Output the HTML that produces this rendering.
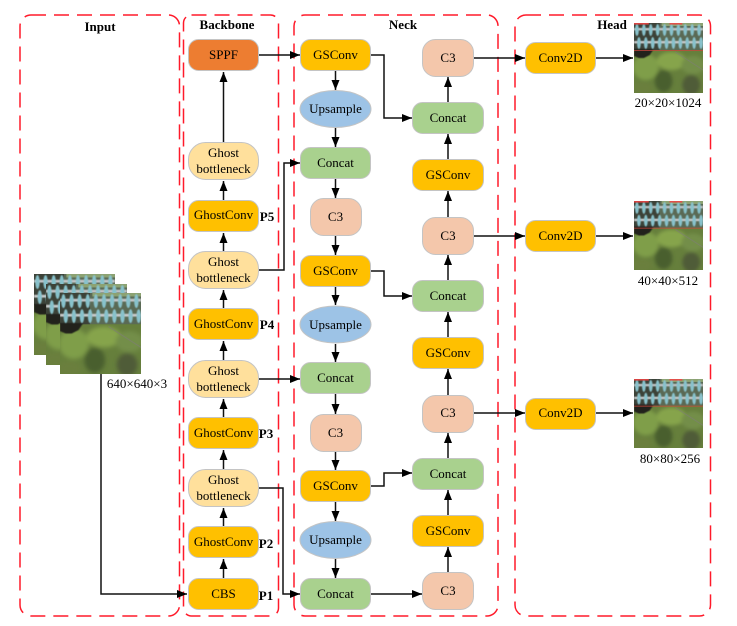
<!DOCTYPE html>
<html>
<head>
<meta charset="utf-8">
<style>
html,body{margin:0;padding:0;background:#fff;width:737px;height:626px;overflow:hidden}
svg{display:block}
text{font-family:"Liberation Serif",serif;font-size:13px;fill:#000;text-anchor:middle}
.b{font-weight:bold}
.f{fill:none;stroke:#ff1a2a;stroke-width:1.5;stroke-dasharray:15 8}
.n{stroke:#c4c4c4;stroke-width:1}
.y{fill:#ffc000}.g{fill:#a9d18e}.p{fill:#f4c7ab}.l{fill:#ffe09c}.u{fill:#9dc3e6}.o{fill:#ed7d31}
.c{fill:none;stroke:#111;stroke-width:1.5}
</style>
</head>
<body>
<svg width="737" height="626" viewBox="0 0 737 626" xmlns="http://www.w3.org/2000/svg">
<defs>
<marker id="a" markerUnits="userSpaceOnUse" markerWidth="12" markerHeight="9" refX="10" refY="4" orient="auto"><path d="M0 0L10 4L0 8Z" fill="#000"/></marker>
<filter id="bl" x="-20%" y="-20%" width="140%" height="140%"><feGaussianBlur stdDeviation="1.8"/></filter>
<filter id="bs" x="-20%" y="-20%" width="140%" height="140%"><feGaussianBlur stdDeviation="0.45"/></filter>
<clipPath id="cp"><rect width="70" height="70"/></clipPath>
<g id="row">
<ellipse cx="3" cy="0" rx="1.9" ry="6" fill="#88c2cc"/><ellipse cx="10" cy="0" rx="1.9" ry="6" fill="#88c2cc"/><ellipse cx="17" cy="0" rx="1.9" ry="6" fill="#88c2cc"/><ellipse cx="24" cy="0" rx="1.9" ry="6" fill="#88c2cc"/><ellipse cx="31" cy="0" rx="1.9" ry="6" fill="#88c2cc"/><ellipse cx="38" cy="0" rx="1.9" ry="6" fill="#88c2cc"/><ellipse cx="45" cy="0" rx="1.9" ry="6" fill="#88c2cc"/><ellipse cx="52" cy="0" rx="1.9" ry="6" fill="#88c2cc"/><ellipse cx="59" cy="0" rx="1.9" ry="6" fill="#88c2cc"/><ellipse cx="66" cy="0" rx="1.9" ry="6" fill="#88c2cc"/>
</g>
<symbol id="pic" viewBox="0 0 70 70" preserveAspectRatio="none">
<g clip-path="url(#cp)">
<rect width="70" height="70" fill="#667f3c"/>
<g filter="url(#bl)">
<ellipse cx="12" cy="44" rx="13" ry="13" fill="#7f9e48"/>
<ellipse cx="38" cy="38" rx="15" ry="9" fill="#86a44c"/>
<ellipse cx="60" cy="42" rx="12" ry="9" fill="#738e4a"/>
<ellipse cx="30" cy="58" rx="9" ry="11" fill="#4a5f2e"/>
<ellipse cx="58" cy="62" rx="9" ry="10" fill="#505c38"/>
<ellipse cx="8" cy="65" rx="10" ry="6" fill="#6a7f3c"/>
</g>
<rect x="0" y="0" width="70" height="27" fill="#5a6a55"/>
<rect x="0" y="0" width="26" height="27" fill="#3c4238"/>
<rect x="28" y="0" width="42" height="3" fill="#8ca272"/>
<path d="M0 26H20L16 32L10 35H5L0 33Z" fill="#20231b" filter="url(#bs)"/>
<g filter="url(#bs)">
<rect x="0" y="5" width="70" height="2.4" fill="#c2c5c8"/>
<rect x="0" y="18" width="70" height="2.4" fill="#c8cacb"/>
<use href="#row" x="0" y="7"/>
<use href="#row" x="2" y="20"/>
</g>
<path d="M42 29L70 47" stroke="#7d8071" stroke-width="1" fill="none" opacity=".7"/>
</g>
</symbol>
<symbol id="pich" viewBox="0 0 70 70" preserveAspectRatio="none">
<use href="#pic" width="70" height="70"/>
<path d="M0 .8H15M36 .8H49" stroke="#e44" stroke-width="1.4"/>
<path d="M0 27.500H70" stroke="#c9453c" stroke-width="0.8"/>
</symbol>
</defs>

<!-- frames -->
<rect class="f" x="20" y="15" width="159.500" height="601" rx="11"/>
<rect class="f" x="183.500" y="15" width="95" height="601" rx="8"/>
<rect class="f" x="294" y="15" width="204" height="601" rx="11"/>
<rect class="f" x="515" y="15" width="195.500" height="601" rx="11"/>

<text class="b" x="100" y="31">Input</text>
<text class="b" x="227" y="29">Backbone</text>
<text class="b" x="403" y="29">Neck</text>
<text class="b" x="612" y="29">Head</text>

<!-- input images -->
<use href="#pic" x="34" y="274" width="81" height="81"/>
<use href="#pic" x="46" y="284" width="81" height="81"/>
<use href="#pic" x="60" y="293" width="81" height="81"/>
<text x="137" y="388">640×640×3</text>

<!-- head images -->
<use href="#pich" x="634" y="23" width="69" height="70"/>
<use href="#pich" x="634" y="201" width="69" height="69"/>
<use href="#pich" x="634" y="379" width="69" height="69"/>
<text x="668" y="107">20×20×1024</text>
<text x="668" y="285">40×40×512</text>
<text x="670" y="463">80×80×256</text>

<!-- connectors -->
<g>
<path class="c" marker-end="url(#a)" d="M101 374V594H187"/>
<path class="c" marker-end="url(#a)" d="M223.500 142V72"/>
<path class="c" marker-end="url(#a)" d="M223.500 200V181"/>
<path class="c" marker-end="url(#a)" d="M223.500 251V233"/>
<path class="c" marker-end="url(#a)" d="M223.500 308V290"/>
<path class="c" marker-end="url(#a)" d="M223.500 360V341"/>
<path class="c" marker-end="url(#a)" d="M223.500 417V399"/>
<path class="c" marker-end="url(#a)" d="M223.500 469V450"/>
<path class="c" marker-end="url(#a)" d="M223.500 526V508"/>
<path class="c" marker-end="url(#a)" d="M223.500 578V559"/>
<path class="c" marker-end="url(#a)" d="M259 55H300"/>
<path class="c" marker-end="url(#a)" d="M259 270H284V163H300"/>
<path class="c" marker-end="url(#a)" d="M259 379H300"/>
<path class="c" marker-end="url(#a)" d="M259 488H283V594H300"/>
<path class="c" marker-end="url(#a)" d="M335.500 71V90"/>
<path class="c" marker-end="url(#a)" d="M335.500 128V147"/>
<path class="c" marker-end="url(#a)" d="M335.500 179V198"/>
<path class="c" marker-end="url(#a)" d="M335.500 236V255"/>
<path class="c" marker-end="url(#a)" d="M335.500 287V305"/>
<path class="c" marker-end="url(#a)" d="M335.500 344V362"/>
<path class="c" marker-end="url(#a)" d="M335.500 394V414"/>
<path class="c" marker-end="url(#a)" d="M335.500 452V470"/>
<path class="c" marker-end="url(#a)" d="M335.500 502V521"/>
<path class="c" marker-end="url(#a)" d="M335.500 559V578"/>
<path class="c" marker-end="url(#a)" d="M371 55H384V118H412"/>
<path class="c" marker-end="url(#a)" d="M371 271H384V296H412"/>
<path class="c" marker-end="url(#a)" d="M371 486H384V473H412"/>
<path class="c" marker-end="url(#a)" d="M371 594H422"/>
<path class="c" marker-end="url(#a)" d="M448 572V547"/>
<path class="c" marker-end="url(#a)" d="M448 515V490"/>
<path class="c" marker-end="url(#a)" d="M448 458V433"/>
<path class="c" marker-end="url(#a)" d="M448 395V369"/>
<path class="c" marker-end="url(#a)" d="M448 337V312"/>
<path class="c" marker-end="url(#a)" d="M448 280V255"/>
<path class="c" marker-end="url(#a)" d="M448 217V191"/>
<path class="c" marker-end="url(#a)" d="M448 159V134"/>
<path class="c" marker-end="url(#a)" d="M448 102V77"/>
<path class="c" marker-end="url(#a)" d="M474 58H525"/>
<path class="c" marker-end="url(#a)" d="M474 236H525"/>
<path class="c" marker-end="url(#a)" d="M474 413H525"/>
<path class="c" marker-end="url(#a)" d="M596 58H633"/>
<path class="c" marker-end="url(#a)" d="M596 236H633"/>
<path class="c" marker-end="url(#a)" d="M596 413H633"/>
</g>

<!-- backbone nodes -->
<g class="n">
<rect class="o" x="188.500" y="39.500" width="70" height="31" rx="10"/>
<rect class="l" x="188.500" y="142.500" width="70" height="37" rx="17"/>
<rect class="y" x="188.500" y="200.500" width="70" height="31" rx="10"/>
<rect class="l" x="188.500" y="251.500" width="70" height="37" rx="17"/>
<rect class="y" x="188.500" y="308.500" width="70" height="31" rx="10"/>
<rect class="l" x="188.500" y="360.500" width="70" height="37" rx="17"/>
<rect class="y" x="188.500" y="417.500" width="70" height="31" rx="10"/>
<rect class="l" x="188.500" y="469.500" width="70" height="37" rx="17"/>
<rect class="y" x="188.500" y="526.500" width="70" height="31" rx="10"/>
<rect class="y" x="188.500" y="578.500" width="70" height="31" rx="10"/>
<!-- neck col 1 -->
<rect class="y" x="300.500" y="39.500" width="70" height="31" rx="10"/>
<ellipse class="u" cx="335.500" cy="109" rx="35.500" ry="18.500"/>
<rect class="g" x="300.500" y="147.500" width="70" height="31" rx="10"/>
<rect class="p" x="310.500" y="198.500" width="51" height="37" rx="13"/>
<rect class="y" x="300.500" y="255.500" width="70" height="31" rx="10"/>
<ellipse class="u" cx="335.500" cy="324.500" rx="35.500" ry="18.500"/>
<rect class="g" x="300.500" y="362.500" width="70" height="31" rx="10"/>
<rect class="p" x="310.500" y="414.500" width="51" height="37" rx="13"/>
<rect class="y" x="300.500" y="470.500" width="70" height="31" rx="10"/>
<ellipse class="u" cx="335.500" cy="540" rx="35.500" ry="18.500"/>
<rect class="g" x="300.500" y="578.500" width="70" height="31" rx="10"/>
<!-- neck col 2 -->
<rect class="p" x="422.500" y="39.500" width="51" height="37" rx="13"/>
<rect class="g" x="412.500" y="102.500" width="71" height="31" rx="10"/>
<rect class="y" x="412.500" y="159.500" width="71" height="31" rx="10"/>
<rect class="p" x="422.500" y="217.500" width="51" height="37" rx="13"/>
<rect class="g" x="412.500" y="280.500" width="71" height="31" rx="10"/>
<rect class="y" x="412.500" y="337.500" width="71" height="31" rx="10"/>
<rect class="p" x="422.500" y="395.500" width="51" height="37" rx="13"/>
<rect class="g" x="412.500" y="458.500" width="71" height="31" rx="10"/>
<rect class="y" x="412.500" y="515.500" width="71" height="31" rx="10"/>
<rect class="p" x="422.500" y="572.500" width="51" height="37" rx="13"/>
<!-- head -->
<rect class="y" x="525.500" y="42.500" width="70" height="31" rx="10"/>
<rect class="y" x="525.500" y="220.500" width="70" height="31" rx="10"/>
<rect class="y" x="525.500" y="398.500" width="70" height="31" rx="10"/>
</g>

<!-- backbone labels -->
<text x="223.500" y="59">SPPF</text>
<text x="223.500" y="157">Ghost</text><text x="223.500" y="173">bottleneck</text>
<text x="223.500" y="219">GhostConv</text>
<text x="223.500" y="266">Ghost</text><text x="223.500" y="282">bottleneck</text>
<text x="223.500" y="328">GhostConv</text>
<text x="223.500" y="375">Ghost</text><text x="223.500" y="391">bottleneck</text>
<text x="223.500" y="437">GhostConv</text>
<text x="223.500" y="484">Ghost</text><text x="223.500" y="500">bottleneck</text>
<text x="223.500" y="546">GhostConv</text>
<text x="223.500" y="598">CBS</text>
<text class="b" x="267" y="221">P5</text>
<text class="b" x="267" y="329">P4</text>
<text class="b" x="266" y="438">P3</text>
<text class="b" x="266" y="548">P2</text>
<text class="b" x="266" y="600">P1</text>

<!-- neck labels -->
<text x="335.500" y="59">GSConv</text>
<text x="335.500" y="113">Upsample</text>
<text x="335.500" y="167">Concat</text>
<text x="335.500" y="221">C3</text>
<text x="335.500" y="275">GSConv</text>
<text x="335.500" y="329">Upsample</text>
<text x="335.500" y="382">Concat</text>
<text x="335.500" y="437">C3</text>
<text x="335.500" y="490">GSConv</text>
<text x="335.500" y="544">Upsample</text>
<text x="335.500" y="598">Concat</text>
<text x="448" y="62">C3</text>
<text x="448" y="122">Concat</text>
<text x="448" y="179">GSConv</text>
<text x="448" y="240">C3</text>
<text x="448" y="300">Concat</text>
<text x="448" y="357">GSConv</text>
<text x="448" y="417">C3</text>
<text x="448" y="478">Concat</text>
<text x="448" y="535">GSConv</text>
<text x="448" y="595">C3</text>
<text x="560.500" y="62">Conv2D</text>
<text x="560.500" y="240">Conv2D</text>
<text x="560.500" y="417">Conv2D</text>
</svg>
</body>
</html>
